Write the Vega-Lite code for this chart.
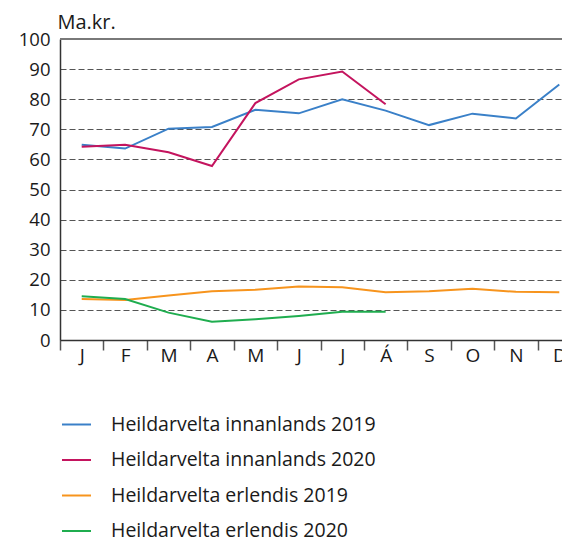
{
  "$schema": "https://vega.github.io/schema/vega-lite/v6.json",
  "autosize": "none",
  "width": 502,
  "height": 301,
  "padding": {"left": 60, "top": 39, "right": 0, "bottom": 199},
  "background": "white",
  "config": {
    "view": {"stroke": null},
    "font": "Open Sans",
    "axisY": {
      "values": [0, 10, 20, 30, 40, 50, 60, 70, 80, 90, 100],
      "labelOverlap": false,
      "ticks": false,
      "labelPadding": 10,
      "labelFontSize": 18.5,
      "labelColor": "#1a1a1a",
      "domainColor": "#333",
      "domainWidth": 1.5,
      "grid": true,
      "gridColor": "#555",
      "gridDash": [6, 3],
      "gridWidth": 1
    },
    "axisX": {
      "labelAngle": 0,
      "tickBand": "extent",
      "tickSize": 10,
      "tickColor": "#555",
      "tickWidth": 1.5,
      "domainColor": "#333",
      "domainWidth": 1.5,
      "labelFontSize": 19,
      "labelColor": "#1a1a1a",
      "labelPadding": -4
    }
  },
  "data": {
    "values": [
      {"m": 1, "s": "Heildarvelta innanlands 2019", "v": 64.9},
      {"m": 2, "s": "Heildarvelta innanlands 2019", "v": 63.6},
      {"m": 3, "s": "Heildarvelta innanlands 2019", "v": 70.2},
      {"m": 4, "s": "Heildarvelta innanlands 2019", "v": 70.8},
      {"m": 5, "s": "Heildarvelta innanlands 2019", "v": 76.5},
      {"m": 6, "s": "Heildarvelta innanlands 2019", "v": 75.3},
      {"m": 7, "s": "Heildarvelta innanlands 2019", "v": 80.0},
      {"m": 8, "s": "Heildarvelta innanlands 2019", "v": 76.2},
      {"m": 9, "s": "Heildarvelta innanlands 2019", "v": 71.4},
      {"m": 10, "s": "Heildarvelta innanlands 2019", "v": 75.2},
      {"m": 11, "s": "Heildarvelta innanlands 2019", "v": 73.6},
      {"m": 12, "s": "Heildarvelta innanlands 2019", "v": 84.9},
      {"m": 1, "s": "Heildarvelta innanlands 2020", "v": 64.2},
      {"m": 2, "s": "Heildarvelta innanlands 2020", "v": 64.9},
      {"m": 3, "s": "Heildarvelta innanlands 2020", "v": 62.4},
      {"m": 4, "s": "Heildarvelta innanlands 2020", "v": 57.8},
      {"m": 5, "s": "Heildarvelta innanlands 2020", "v": 78.7},
      {"m": 6, "s": "Heildarvelta innanlands 2020", "v": 86.6},
      {"m": 7, "s": "Heildarvelta innanlands 2020", "v": 89.2},
      {"m": 8, "s": "Heildarvelta innanlands 2020", "v": 78.3},
      {"m": 1, "s": "Heildarvelta erlendis 2019", "v": 13.6},
      {"m": 2, "s": "Heildarvelta erlendis 2019", "v": 13.3},
      {"m": 3, "s": "Heildarvelta erlendis 2019", "v": 14.8},
      {"m": 4, "s": "Heildarvelta erlendis 2019", "v": 16.2},
      {"m": 5, "s": "Heildarvelta erlendis 2019", "v": 16.7},
      {"m": 6, "s": "Heildarvelta erlendis 2019", "v": 17.8},
      {"m": 7, "s": "Heildarvelta erlendis 2019", "v": 17.5},
      {"m": 8, "s": "Heildarvelta erlendis 2019", "v": 15.9},
      {"m": 9, "s": "Heildarvelta erlendis 2019", "v": 16.2},
      {"m": 10, "s": "Heildarvelta erlendis 2019", "v": 17.0},
      {"m": 11, "s": "Heildarvelta erlendis 2019", "v": 16.0},
      {"m": 12, "s": "Heildarvelta erlendis 2019", "v": 15.9},
      {"m": 1, "s": "Heildarvelta erlendis 2020", "v": 14.5},
      {"m": 2, "s": "Heildarvelta erlendis 2020", "v": 13.6},
      {"m": 3, "s": "Heildarvelta erlendis 2020", "v": 9.1},
      {"m": 4, "s": "Heildarvelta erlendis 2020", "v": 6.1},
      {"m": 5, "s": "Heildarvelta erlendis 2020", "v": 6.9},
      {"m": 6, "s": "Heildarvelta erlendis 2020", "v": 8.0},
      {"m": 7, "s": "Heildarvelta erlendis 2020", "v": 9.4},
      {"m": 8, "s": "Heildarvelta erlendis 2020", "v": 9.4}
    ]
  },
  "layer": [
    {
      "mark": {"type": "line", "strokeWidth": 2},
      "encoding": {
        "x": {
          "field": "m",
          "type": "ordinal",
          "bandPosition": 0.5,
          "scale": {"type": "band", "paddingInner": 0, "paddingOuter": 0, "range": [0, 521]},
          "axis": {
            "title": null,
            "labelExpr": "['J','F','M','A','M','J','J','Á','S','O','N','D'][datum.value-1]"
          }
        },
        "y": {
          "field": "v",
          "type": "quantitative",
          "scale": {"domain": [0, 100], "nice": false},
          "axis": {
            "title": "Ma.kr.",
            "titleAngle": 0,
            "titleAlign": "left",
            "titleBaseline": "alphabetic",
            "titleX": -3,
            "titleY": -11,
            "titleFontSize": 20,
            "titleFontWeight": "normal",
            "titleColor": "#1a1a1a"
          }
        },
        "color": {
          "field": "s",
          "type": "nominal",
          "scale": {
            "domain": ["Heildarvelta innanlands 2019", "Heildarvelta innanlands 2020", "Heildarvelta erlendis 2019", "Heildarvelta erlendis 2020"],
            "range": ["#3a80c8", "#c4145e", "#f7941d", "#1fad4f"]
          },
          "legend": {
            "title": null,
            "orient": "none",
            "legendX": 1,
            "legendY": 370,
            "symbolType": "stroke",
            "symbolSize": 841,
            "symbolStrokeWidth": 2,
            "labelFontSize": 19.5,
            "labelLimit": 500,
            "labelColor": "#1a1a1a",
            "labelOffset": 19,
            "rowPadding": 10.5
          }
        }
      }
    },
    {
      "mark": {"type": "rule", "color": "#7a7a7a", "strokeWidth": 1.5},
      "encoding": {"y": {"datum": 100, "type": "quantitative"}}
    }
  ]
}
